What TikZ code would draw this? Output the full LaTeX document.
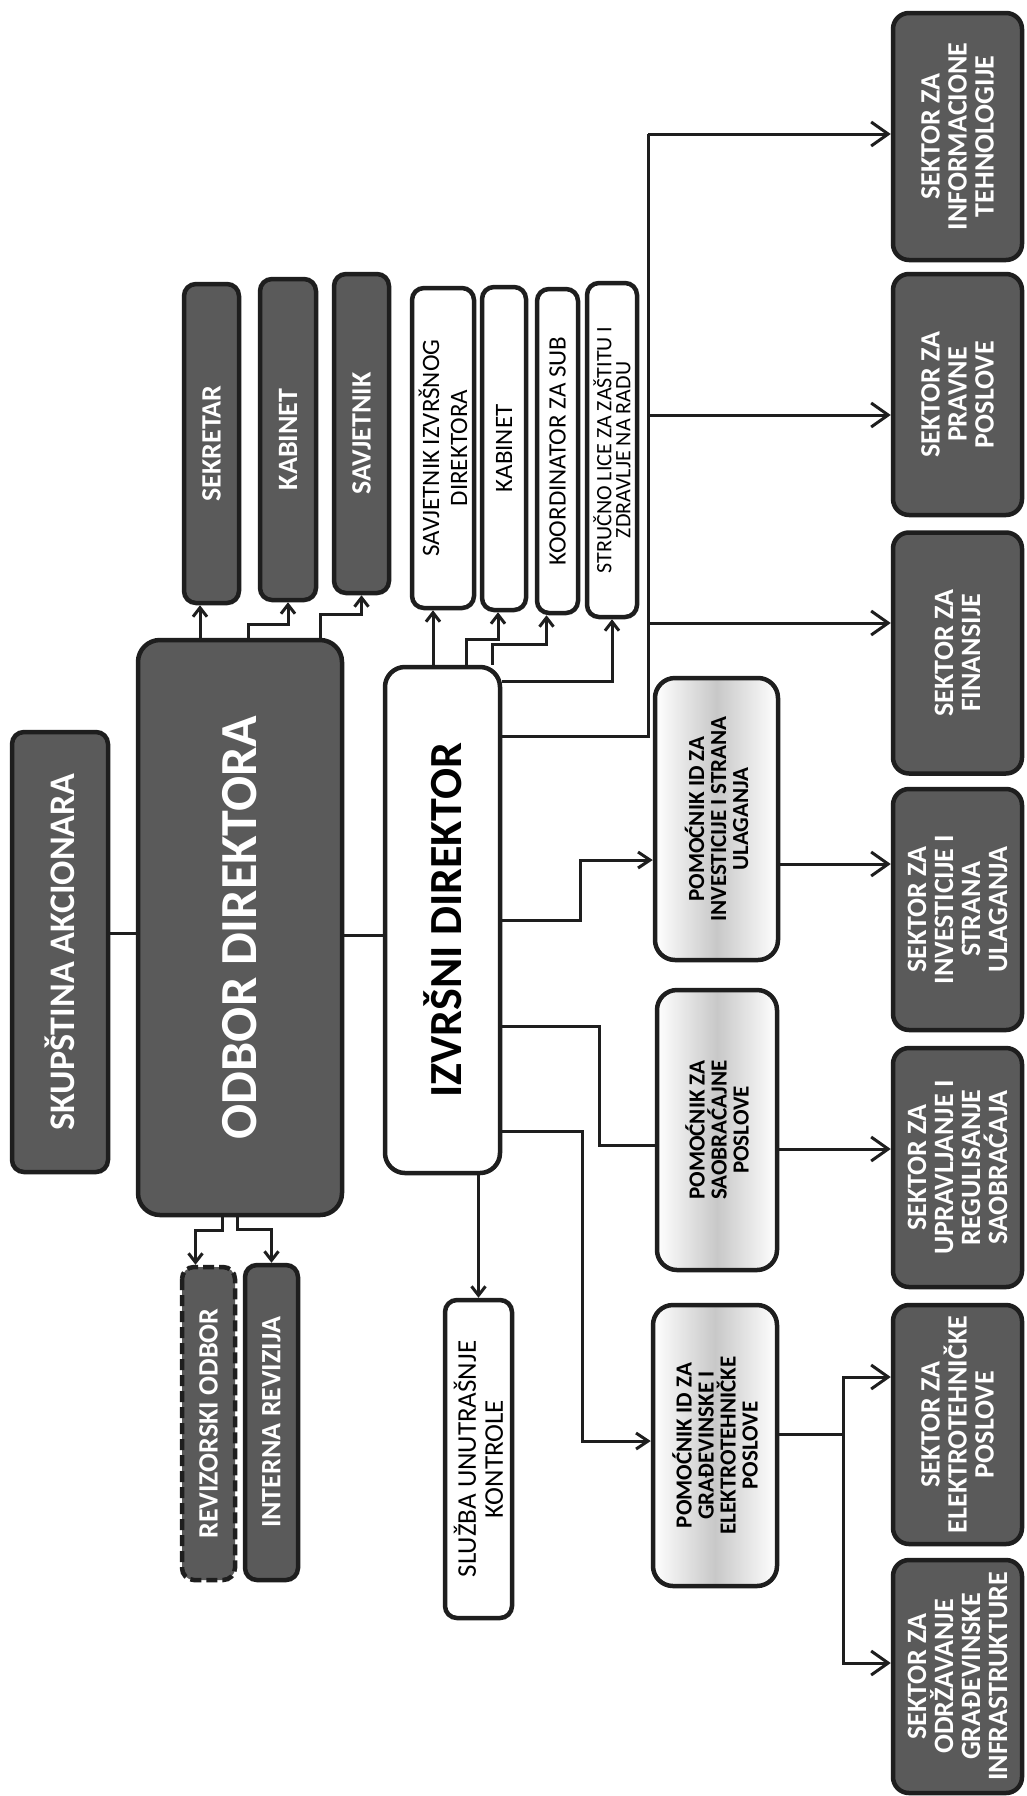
\documentclass[tikz,border=0pt]{standalone}
\usepackage{fontspec}
\setmainfont{Carlito}
\usetikzlibrary{arrows.meta,positioning,calc}
\definecolor{orgdark}{HTML}{5A5A5A}
\definecolor{orgline}{HTML}{1E1E1E}
\definecolor{orgpale}{HTML}{C8C8C8}
\newcommand{\orgfs}[2]{\fontsize{#1}{#2}\selectfont}

\begin{document}
\begin{tikzpicture}[x=1pt, y=-1pt,
    unit/.style={rotate=90, draw=orgline, line width=4.5pt, rounded corners=12pt,
                 inner sep=0pt, align=center},
    dark/.style={unit, fill=orgdark, text=white, font=\bfseries\orgfs{28}{27}},
    plain/.style={unit, fill=white, text=black, font=\orgfs{25}{28}},
    pale/.style={unit, left color=white, right color=white, middle color=orgpale,
                 rounded corners=20pt, font=\bfseries\orgfs{23}{22}},
    sector/.style={dark, rounded corners=16pt, minimum height=129pt, minimum width=241pt},
    link/.style={line width=3pt, draw=orgline},
    arrs/.style={link, -{Straight Barb[length=9pt,width=14pt]}},
    arrm/.style={link, -{Straight Barb[length=12pt,width=16pt]}},
    arrb/.style={link, -{Straight Barb[length=17pt,width=24pt]}}
]
  \fill[white] (0,0) rectangle (1027,1796);
  \useasboundingbox (0,0) rectangle (1027,1796);

  % Top of the chart
  \node[dark, font=\bfseries\orgfs{36}{36}, minimum width=440pt, minimum height=96pt] (skup) at (60,952) {SKUPŠTINA AKCIONARA};
  \node[dark, font=\bfseries\orgfs{52}{52}, rounded corners=22pt, minimum width=575pt, minimum height=204pt] (odbor) at (240,927.5) {ODBOR DIREKTORA};
  \node[plain, font=\bfseries\orgfs{46}{46}, rounded corners=20pt, minimum width=506pt, minimum height=115pt] (izv) at (442.5,920) {IZVRŠNI DIREKTOR};

  % Boxes beside the board
  \node[dark, minimum width=319pt, minimum height=55pt] (sekr) at (211.5,443.5) {SEKRETAR};
  \node[dark, minimum width=321pt, minimum height=56pt] (kab1) at (288,439.5) {KABINET};
  \node[dark, minimum width=319pt, minimum height=55pt] (savj) at (361.5,433.5) {SAVJETNIK};
  \node[dark, dash pattern=on 11pt off 5pt, minimum width=313pt, minimum height=53pt] (revi) at (208.5,1423.5) {REVIZORSKI ODBOR};
  \node[dark, minimum width=315pt, minimum height=53pt] (intr) at (271.5,1422.5) {INTERNA REVIZIJA};

  % Staff of the executive director
  \node[plain, minimum width=320pt, minimum height=62pt] (savjid) at (443,448) {SAVJETNIK IZVRŠNOG\\DIREKTORA};
  \node[plain, minimum width=323pt, minimum height=44pt] (kab2) at (504,448.5) {KABINET};
  \node[plain, minimum width=324pt, minimum height=41pt] (koord) at (557.5,451) {KOORDINATOR ZA SUB};
  \node[plain, font=\orgfs{22}{19}, minimum width=334pt, minimum height=50pt] (struc) at (612,450) {STRUČNO LICE ZA ZAŠTITU I\\ZDRAVLJE NA RADU};
  \node[plain, font=\orgfs{27}{27}, minimum width=318pt, minimum height=67pt] (sluz) at (478.5,1459) {SLUŽBA UNUTRAŠNJE\\KONTROLE};

  % Assistants
  \node[pale, minimum width=282pt, minimum height=123pt] (pinv) at (716.5,819) {POMOĆNIK ID ZA\\INVESTICIJE I STRANA\\ULAGANJA};
  \node[pale, minimum width=280pt, minimum height=120pt] (psao) at (717,1130) {POMOĆNIK ZA\\SAOBRAĆAJNE\\POSLOVE};
  \node[pale, minimum width=281pt, minimum height=124pt] (pgra) at (715,1445.5) {POMOĆNIK ID ZA\\GRAĐEVINSKE I\\ELEKTROTEHNIČKE\\POSLOVE};

  % Sectors
  \node[sector, minimum width=247pt] (sinf) at (957.5,136.5) {SEKTOR ZA\\INFORMACIONE\\TEHNOLOGIJE};
  \node[sector] (sprav) at (957.5,394.5) {SEKTOR ZA\\PRAVNE\\POSLOVE};
  \node[sector] (sfin) at (957.5,653) {SEKTOR ZA\\FINANSIJE};
  \node[sector] (sinv) at (957.5,909.5) {SEKTOR ZA\\INVESTICIJE I\\STRANA\\ULAGANJA};
  \node[sector, minimum width=239pt] (supr) at (957.5,1167.5) {SEKTOR ZA\\UPRAVLJANJE I\\REGULISANJE\\SAOBRAĆAJA};
  \node[sector, minimum width=239pt] (sele) at (957.5,1424.5) {SEKTOR ZA\\ELEKTROTEHNIČKE\\POSLOVE};
  \node[sector, minimum width=233pt] (sodr) at (957.5,1676.5) {SEKTOR ZA\\ODRŽAVANJE\\GRAĐEVINSKE\\INFRASTRUKTURE};

  % Main line
  \draw[link] (skup.south |- 0,933) -- (odbor.north |- 0,933);
  \draw[link] (odbor.south |- 0,935) -- (izv.north |- 0,935);

  % Board connections
  \draw[arrs] (odbor.east -| 200,0) -- (sekr.west -| 200,0);
  \draw[arrs] (odbor.east -| 248,0) -- ++(0,-13) -| (kab1.west);
  \draw[arrs] (odbor.east -| 320,0) -- ++(0,-23) -| (savj.west);
  \draw[arrs] (odbor.west -| 222,0) -- ++(0,13) -| ([xshift=-13pt]revi.east);
  \draw[arrs] (odbor.west -| 237,0) -- ++(0,12) -| (intr.east);

  % Executive director connections
  \draw[arrs] (izv.east -| 433,0) -- (savjid.west -| 433,0);
  \draw[arrs] (izv.east -| 466,0) -- ++(0,-25) -| ([xshift=-6pt]kab2.west);
  \draw[arrs] (izv.east -| 492,0) -- ++(0,-20) -| ([xshift=-11pt]koord.west);
  \draw[arrs] (izv.south |- 0,681) -| (struc.west);
  \draw[arrs] (izv.west -| sluz.east) -- (sluz.east);

  \coordinate (bus) at (648,736);
  \draw[link] (izv.south |- bus) -- (bus) -- (bus |- 0,134);
  \foreach \s/\yy in {sinf/134, sprav/415, sfin/623}
    \draw[arrb] (bus |- 0,\yy) -- (\s.north |- 0,\yy);

  \draw[arrm] (izv.south |- 0,920) -| (580,860) -- (pinv.north |- 0,860);
  \draw[link] (izv.south |- 0,1026) -| (599,1145) -- (psao.north |- 0,1145);
  \draw[arrm] (izv.south |- 0,1131) -| (582,1441) -- (pgra.north |- 0,1441);

  % Assistants to sectors
  \draw[arrb] (pinv.south |- 0,864) -- (sinv.north |- 0,864);
  \draw[arrb] (psao.south |- 0,1149) -- (supr.north |- 0,1149);
  \coordinate (gbus) at (843,1434);
  \draw[link] (pgra.south |- gbus) -- (gbus);
  \draw[arrb] (gbus) |- (sele.north |- 0,1377);
  \draw[arrb] (gbus) |- (sodr.north |- 0,1663);
\end{tikzpicture}
\end{document}
